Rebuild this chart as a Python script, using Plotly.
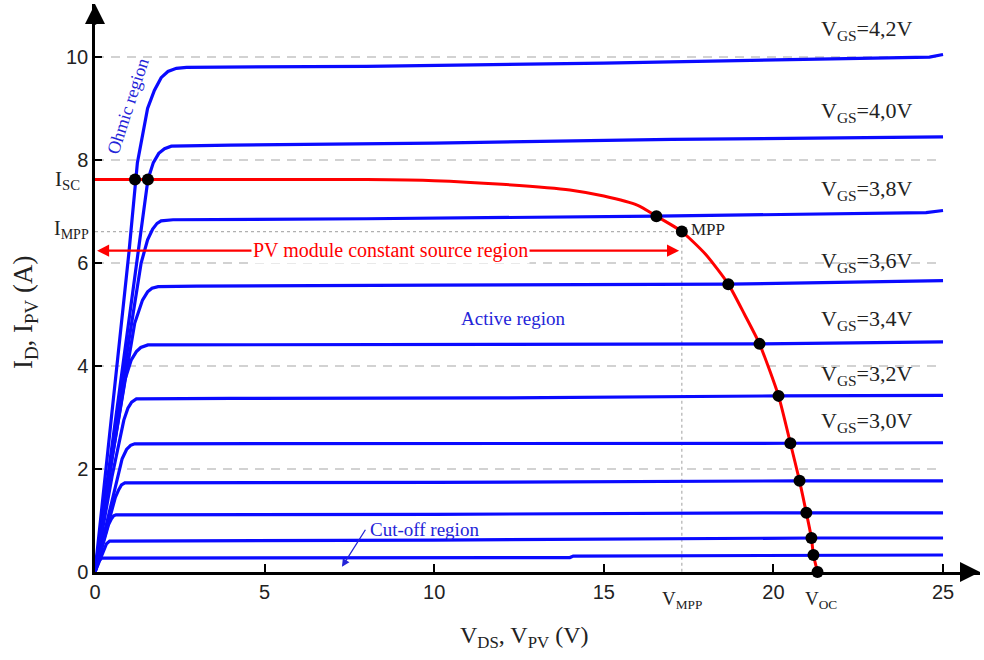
import plotly.graph_objects as go

# ---------------- data ----------------
# MOSFET output characteristics (V_DS [V], I_D [A]) for several V_GS
v_42 = [0, 0.5, 1.0, 1.25, 1.55, 1.75, 1.95, 2.15, 2.4, 2.7, 8, 15, 20, 24.6, 25]
i_42 = [0, 3.1, 6.2, 7.95, 9.0, 9.35, 9.6, 9.72, 9.78, 9.8, 9.82, 9.88, 9.95, 10.0, 10.05]
v_40 = [0, 0.5, 1.0, 1.3, 1.56, 1.72, 1.88, 2.05, 2.25, 4, 10, 17, 25]
i_40 = [0, 2.45, 4.9, 6.3, 7.62, 7.95, 8.13, 8.22, 8.27, 8.29, 8.33, 8.4, 8.45]
v_38 = [0, 0.5, 1.0, 1.36, 1.55, 1.7, 1.83, 1.95, 2.3, 8, 16.55, 24.5, 25]
i_38 = [0, 2.3, 4.5, 6.0, 6.45, 6.66, 6.77, 6.82, 6.84, 6.86, 6.91, 6.98, 7.02]
v_36 = [0, 0.5, 1.17, 1.4, 1.55, 1.68, 1.86, 3, 10, 18.67, 25]
i_36 = [0, 2.2, 4.83, 5.28, 5.44, 5.51, 5.54, 5.55, 5.57, 5.59, 5.66]
v_34 = [0, 0.5, 0.88, 1.07, 1.22, 1.35, 1.56, 4, 12, 19.59, 25]
i_34 = [0, 2.2, 3.73, 4.12, 4.28, 4.36, 4.41, 4.41, 4.42, 4.43, 4.47]
v_32 = [0, 0.5, 0.85, 0.97, 1.08, 1.22, 4, 12, 20.15, 25]
i_32 = [0, 1.85, 2.95, 3.18, 3.3, 3.36, 3.37, 3.38, 3.42, 3.43]
v_30 = [0, 0.5, 0.8, 0.93, 1.05, 1.17, 10, 20.5, 25]
i_30 = [0, 1.4, 2.2, 2.38, 2.46, 2.49, 2.49, 2.5, 2.51]
v_28 = [0, 0.6, 0.7, 0.78, 0.88, 10, 20.77, 25]
i_28 = [0, 1.45, 1.6, 1.69, 1.73, 1.74, 1.77, 1.77]
v_26 = [0, 0.4, 0.48, 0.55, 0.62, 10, 20.97, 25]
i_26 = [0, 0.92, 1.03, 1.09, 1.11, 1.12, 1.15, 1.15]
v_24 = [0, 0.28, 0.34, 0.43, 10, 21.12, 25]
i_24 = [0, 0.47, 0.55, 0.6, 0.62, 0.66, 0.66]
v_22 = [0, 0.12, 0.2, 14, 14.1, 21.18, 25]
i_22 = [0, 0.22, 0.27, 0.28, 0.31, 0.33, 0.33]

# PV module I-V curve
pv_v = [0, 8, 10, 12, 14, 15, 16, 16.55, 17.3, 18, 18.67, 19.15, 19.59,
        20.15, 20.5, 20.77, 20.97, 21.12, 21.18, 21.3]
pv_i = [7.62, 7.62, 7.6, 7.53, 7.42, 7.3, 7.12, 6.91, 6.61, 6.17, 5.59, 5.0,
        4.43, 3.42, 2.5, 1.77, 1.15, 0.66, 0.33, 0]

# operating points (intersections) and MPP
dot_v = [1.18, 1.56, 16.55, 17.3, 18.67, 19.59, 20.15, 20.5, 20.77, 20.97,
         21.12, 21.18, 21.3]
dot_i = [7.62, 7.62, 6.91, 6.61, 5.59, 4.43, 3.42, 2.5, 1.77, 1.15, 0.66,
         0.33, 0]

v_mpp = 17.3
i_mpp = 6.61
i_sc = 7.62
v_oc = 21.3

vgs_labels = ["V<sub>GS</sub>=4,2V", "V<sub>GS</sub>=4,0V", "V<sub>GS</sub>=3,8V",
              "V<sub>GS</sub>=3,6V", "V<sub>GS</sub>=3,4V", "V<sub>GS</sub>=3,2V",
              "V<sub>GS</sub>=3,0V"]
vgs_label_i = [10.52, 8.93, 7.42, 6.02, 4.89, 3.83, 2.91]

x_ticks = [0, 5, 10, 15, 20, 25]
y_ticks = [0, 2, 4, 6, 8, 10]
grid_y = [2, 4, 6, 8, 10]

# ---------------- figure ----------------
SERIF = "Liberation Serif"
SANS = "Liberation Sans"
BLUE = "#0a0aff"
RED = "#ff0000"
LBLUE = "#2424d8"
XMAX = 26.09
YMAX = 11.03


def px(v):
    return v / XMAX


def py(i):
    return i / YMAX


fig = go.Figure()

# dashed gridlines
gx, gy = [], []
for g in grid_y:
    gx += [0, 25, None]
    gy += [g, g, None]
fig.add_trace(go.Scatter(x=gx, y=gy, mode="lines",
                         line=dict(color="#c4c4c4", width=1.5, dash="9px,7px"),
                         hoverinfo="skip"))

# MPP dotted guide lines
fig.add_trace(go.Scatter(x=[0, v_mpp, v_mpp], y=[i_mpp, i_mpp, 0], mode="lines",
                         line=dict(color="#b0b0b0", width=1.2, dash="dot"),
                         hoverinfo="skip"))

curves = [(v_42, i_42), (v_40, i_40), (v_38, i_38), (v_36, i_36), (v_34, i_34),
          (v_32, i_32), (v_30, i_30), (v_28, i_28), (v_26, i_26), (v_24, i_24),
          (v_22, i_22)]
for vv, ii in curves:
    fig.add_trace(go.Scatter(x=vv, y=ii, mode="lines",
                             line=dict(color=BLUE, width=3.2),
                             hoverinfo="skip"))

fig.add_trace(go.Scatter(x=pv_v, y=pv_i, mode="lines",
                         line=dict(color=RED, width=3, shape="spline", smoothing=0.6),
                         hoverinfo="skip"))
fig.add_trace(go.Scatter(x=dot_v, y=dot_i, mode="markers",
                         marker=dict(color="black", size=12), hoverinfo="skip",
                         cliponaxis=False))

ann = []
# VGS labels
for t, yy in zip(vgs_labels, vgs_label_i):
    ann.append(dict(x=22.75, y=yy, text=t, showarrow=False,
                    font=dict(family=SERIF, size=22, color="#222")))

# Isc, Impp (left of the y axis -> paper coordinates)
ann.append(dict(xref="paper", yref="paper", x=px(-0.38), y=py(i_sc),
                text="I<sub>SC</sub>", xanchor="right", yanchor="middle",
                showarrow=False, font=dict(family=SERIF, size=21, color="#222")))
ann.append(dict(xref="paper", yref="paper", x=px(-0.12), y=py(i_mpp + 0.05),
                text="I<sub>MPP</sub>", xanchor="right", yanchor="middle",
                showarrow=False, font=dict(family=SERIF, size=20, color="#222")))
# Vmpp, Voc under axis
ann.append(dict(xref="paper", yref="paper", x=px(v_mpp), y=py(-0.55),
                text="V<sub>MPP</sub>", xanchor="center", yanchor="middle",
                showarrow=False, font=dict(family=SERIF, size=19, color="#222")))
ann.append(dict(xref="paper", yref="paper", x=px(v_oc + 0.1), y=py(-0.55),
                text="V<sub>OC</sub>", xanchor="center", yanchor="middle",
                showarrow=False, font=dict(family=SERIF, size=19, color="#222")))
# MPP
ann.append(dict(x=v_mpp + 0.22, y=i_mpp + 0.04, text="MPP", xanchor="left",
                showarrow=False, font=dict(family=SERIF, size=17, color="#222")))

# PV module constant source region (double arrow)
ann.append(dict(x=0.06, y=6.24, ax=8.7, ay=6.24, axref="x", ayref="y", text="",
                showarrow=True, arrowhead=2, arrowsize=1.1, arrowwidth=2.2,
                arrowcolor=RED, standoff=0))
ann.append(dict(x=v_mpp - 0.08, y=6.24, ax=8.7, ay=6.24, axref="x", ayref="y", text="",
                showarrow=True, arrowhead=2, arrowsize=1.1, arrowwidth=2.2,
                arrowcolor=RED, standoff=0))
ann.append(dict(x=8.7, y=6.24, text="PV module constant source region", showarrow=False,
                bgcolor="white", borderpad=1,
                font=dict(family=SERIF, size=20, color=RED)))

# region labels
ann.append(dict(x=12.33, y=4.93, text="Active region", showarrow=False,
                font=dict(family=SERIF, size=19, color=LBLUE)))
ann.append(dict(x=9.7, y=0.83, text="Cut-off region", showarrow=False,
                font=dict(family=SERIF, size=19, color=LBLUE)))
ann.append(dict(x=7.28, y=0.1, ax=8.0, ay=0.85, axref="x", ayref="y", text="",
                showarrow=True, arrowhead=2, arrowsize=1.2, arrowwidth=1.3,
                arrowcolor=LBLUE, standoff=0))
ann.append(dict(x=0.97, y=9.05, text="Ohmic region", showarrow=False, textangle=-72,
                font=dict(family=SERIF, size=18, color=LBLUE)))

# axis titles
ann.append(dict(xref="paper", yref="paper", x=px(12.65), y=py(-1.27),
                text="V<sub>DS</sub>, V<sub>PV</sub> (V)", xanchor="center",
                yanchor="middle", showarrow=False,
                font=dict(family=SERIF, size=24, color="#222")))
ann.append(dict(xref="paper", yref="paper", x=px(-2.06), y=py(5.05),
                text="I<sub>D</sub>, I<sub>PV</sub> (A)", textangle=-90,
                xanchor="center", yanchor="middle", showarrow=False,
                font=dict(family=SERIF, size=27, color="#222")))

# axis arrowheads
ann.append(dict(x=XMAX, y=0, ax=25.5, ay=0, axref="x", ayref="y", text="",
                showarrow=True, arrowhead=2, arrowsize=1.6, arrowwidth=2.5,
                arrowcolor="black", standoff=0))
ann.append(dict(x=0, y=YMAX, ax=0, ay=10.6, axref="x", ayref="y", text="",
                showarrow=True, arrowhead=2, arrowsize=1.6, arrowwidth=2.5,
                arrowcolor="black", standoff=0))

fig.update_layout(
    width=984, height=660,
    margin=dict(l=95, r=4, t=4, b=88),
    paper_bgcolor="white", plot_bgcolor="white",
    showlegend=False,
    annotations=ann,
    xaxis=dict(range=[0, XMAX], tickvals=x_ticks, ticktext=[str(t) for t in x_ticks],
               showgrid=False, zeroline=False, showline=True, linecolor="black",
               linewidth=2.5, ticks="inside", ticklen=8, tickwidth=2, tickcolor="black",
               tickfont=dict(family=SANS, size=20, color="#222")),
    yaxis=dict(range=[0, YMAX], tickvals=y_ticks, ticktext=[str(t) for t in y_ticks],
               showgrid=False, zeroline=False, showline=True, linecolor="black",
               linewidth=2.5, ticks="inside", ticklen=7, tickwidth=2, tickcolor="black",
               tickfont=dict(family=SANS, size=20, color="#222")),
)

fig.write_html("out.html")
